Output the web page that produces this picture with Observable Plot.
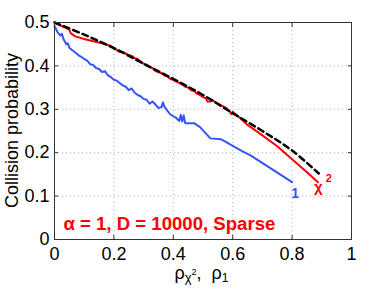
<!DOCTYPE html>
<html><head><meta charset="utf-8">
<script src="https://cdn.jsdelivr.net/npm/d3@7"></script>
<script src="https://cdn.jsdelivr.net/npm/@observablehq/plot@0.6"></script>
<style>body{margin:0;background:#fff}</style>
</head><body><div id="chart"></div>
<script>
// Theoretical chi2 collision probability (dashed black)
const theoryRho = [0, 0.1, 0.2, 0.3, 0.4, 0.5, 0.6, 0.7, 0.8, 0.89];
const theoryP   = [0.5, 0.472, 0.441, 0.405, 0.370, 0.333, 0.291, 0.250, 0.205, 0.152];

// Empirical chi2 (red)
const chi2Rho = [0, 0.02, 0.04, 0.05, 0.055, 0.07, 0.1, 0.13, 0.16, 0.19, 0.2, 0.21, 0.215, 0.23, 0.25, 0.26, 0.27, 0.28, 0.3, 0.31, 0.32, 0.33, 0.34, 0.35, 0.36, 0.37, 0.38, 0.39, 0.4, 0.41, 0.42, 0.43, 0.44, 0.45, 0.46, 0.47, 0.48, 0.49, 0.5, 0.51, 0.515, 0.525, 0.53, 0.54, 0.55, 0.57, 0.58, 0.59, 0.595, 0.6, 0.62, 0.65, 0.7, 0.75, 0.8, 0.85, 0.887];
const chi2P   = [0.5, 0.493, 0.487, 0.483, 0.475, 0.468, 0.462, 0.457, 0.452, 0.446, 0.440, 0.437, 0.433, 0.432, 0.425, 0.423, 0.418, 0.416, 0.405, 0.403, 0.398, 0.395, 0.388, 0.386, 0.383, 0.378, 0.376, 0.370, 0.368, 0.364, 0.361, 0.357, 0.352, 0.350, 0.344, 0.342, 0.336, 0.333, 0.328, 0.325, 0.318, 0.318, 0.322, 0.317, 0.313, 0.306, 0.302, 0.295, 0.289, 0.294, 0.283, 0.264, 0.240, 0.215, 0.185, 0.155, 0.132];

// Empirical l1 (blue)
const l1Rho = [0, 0.005, 0.01, 0.02, 0.025, 0.03, 0.04, 0.045, 0.05, 0.06, 0.07, 0.08, 0.09, 0.1, 0.11, 0.12, 0.13, 0.14, 0.15, 0.16, 0.17, 0.18, 0.19, 0.2, 0.21, 0.22, 0.23, 0.24, 0.25, 0.26, 0.27, 0.28, 0.29, 0.3, 0.31, 0.32, 0.33, 0.34, 0.35, 0.36, 0.365, 0.37, 0.38, 0.39, 0.4, 0.41, 0.42, 0.425, 0.43, 0.435, 0.44, 0.46, 0.47, 0.49, 0.525, 0.56, 0.63, 0.66, 0.8];
const l1P   = [0.492, 0.485, 0.478, 0.470, 0.474, 0.462, 0.450, 0.452, 0.442, 0.436, 0.431, 0.425, 0.421, 0.416, 0.412, 0.404, 0.402, 0.395, 0.393, 0.386, 0.388, 0.378, 0.374, 0.368, 0.366, 0.360, 0.355, 0.352, 0.344, 0.348, 0.338, 0.333, 0.330, 0.324, 0.322, 0.313, 0.318, 0.311, 0.303, 0.305, 0.316, 0.306, 0.297, 0.288, 0.284, 0.280, 0.273, 0.287, 0.272, 0.286, 0.268, 0.268, 0.268, 0.259, 0.233, 0.231, 0.204, 0.194, 0.132];

const xTicks = [0, 0.2, 0.4, 0.6, 0.8, 1];
const xTickLabels = ["0", "0.2", "0.4", "0.6", "0.8", "1"];
const yTicks = [0, 0.1, 0.2, 0.3, 0.4, 0.5];
const yTickLabels = ["0", "0.1", "0.2", "0.3", "0.4", "0.5"];

const RED = "#ff0000";
const BLUE = "#3355ff";
const FONT = "'Liberation Sans', Arial, Helvetica, sans-serif";

const idx = a => a.map((_, i) => i);

const plot = Plot.plot({
  width: 388, height: 291,
  marginLeft: 54, marginRight: 37, marginTop: 22, marginBottom: 52,
  style: {fontFamily: FONT, fontSize: "18px", background: "white", color: "#000"},
  x: {domain: [0, 1]},
  y: {domain: [0, 0.5]},
  marks: [
    Plot.gridX(xTicks.slice(1, -1), {stroke: "#b0b0b0", strokeOpacity: 1, strokeDasharray: "1,3"}),
    Plot.gridY(yTicks.slice(1, -1), {stroke: "#b0b0b0", strokeOpacity: 1, strokeDasharray: "1,3"}),
    Plot.axisX(xTicks, {anchor: "bottom", tickSize: 0, tickPadding: 8, fontSize: 18, label: null,
      tickFormat: d => xTickLabels[xTicks.indexOf(d)]}),
    Plot.axisY(yTicks, {anchor: "left", tickSize: 0, tickPadding: 5, fontSize: 18, label: null,
      tickFormat: d => yTickLabels[yTicks.indexOf(d)]}),
    Plot.axisX(xTicks, {anchor: "bottom", tickSize: -4, tickFormat: () => "", label: null, stroke: "#333"}),
    Plot.axisX(xTicks, {anchor: "top", tickSize: -4, tickFormat: () => "", label: null, stroke: "#333"}),
    Plot.axisY(yTicks, {anchor: "left", tickSize: -4, tickFormat: () => "", label: null, stroke: "#333"}),
    Plot.axisY(yTicks, {anchor: "right", tickSize: -4, tickFormat: () => "", label: null, stroke: "#333"}),
    Plot.line(idx(chi2Rho), {x: i => chi2Rho[i], y: i => chi2P[i], stroke: RED, strokeWidth: 2}),
    Plot.line(idx(l1Rho), {x: i => l1Rho[i], y: i => l1P[i], stroke: BLUE, strokeWidth: 2}),
    Plot.line(idx(theoryRho), {x: i => theoryRho[i], y: i => theoryP[i], stroke: "black", strokeWidth: 2.5,
      strokeDasharray: "6,4", curve: "catmull-rom"}),
    Plot.frame({stroke: "#333", strokeWidth: 1}),
    Plot.text(["α = 1, D = 10000, Sparse"], {x: 0.03, y: 0.035, text: d => d, textAnchor: "start",
      fill: RED, fontWeight: "bold", fontSize: 18.6}),
    Plot.text(["1"], {x: 0.81, y: 0.105, text: d => d, fill: BLUE, fontWeight: "bold", fontSize: 14}),
    Plot.text(["χ"], {x: 0.888, y: 0.12, text: d => d, fill: RED, fontWeight: "bold", fontSize: 15}),
    Plot.text(["2"], {x: 0.924, y: 0.14, text: d => d, fill: RED, fontWeight: "bold", fontSize: 11})
  ]
});

const svg = d3.select(plot);
const sx = plot.scale("x"), sy = plot.scale("y");

// Y axis label
const yMid = (sy.apply(0) + sy.apply(0.5)) / 2;
svg.append("text")
  .attr("transform", `translate(18,${yMid}) rotate(-90)`)
  .attr("text-anchor", "middle")
  .attr("font-family", FONT).attr("font-size", 18).attr("fill", "#000")
  .text("Collision probability");

// X axis label with sub/superscripts
const xl = svg.append("text")
  .attr("x", sx.apply(0.5) - 1).attr("y", 279)
  .attr("text-anchor", "middle")
  .attr("font-family", FONT).attr("font-size", 18).attr("fill", "#000");
xl.append("tspan").text("ρ");
xl.append("tspan").attr("font-size", 13).attr("dy", 3).text("χ");
xl.append("tspan").attr("font-size", 9).attr("dy", -7).text("2");
xl.append("tspan").attr("dy", 4).text(",  ρ");
xl.append("tspan").attr("font-size", 12).attr("dy", 3).text("1");

document.getElementById("chart").appendChild(plot);
</script>
</body></html>
